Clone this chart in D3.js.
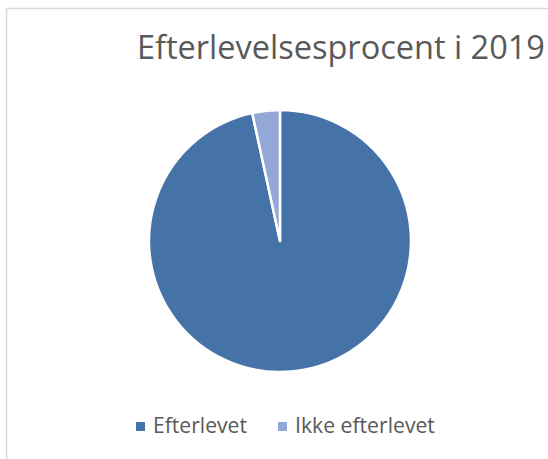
<!DOCTYPE html>
<html>
<head>
<meta charset="utf-8">
<script src="https://cdn.jsdelivr.net/npm/d3@7"></script>
<style>
  body { margin: 0; background: #fff; }
  svg { display: block; }
  text { font-family: "Open Sans", "Noto Sans", sans-serif; fill: #595959; }
</style>
</head>
<body>
<div id="canvas"></div>
<script>
var W = 548, H = 459;

// data
var categories = ['Efterlevet', 'Ikke efterlevet'];
var values = [96.6, 3.4];
var colors = ['#4573A7', '#93A8D6'];
var title = 'Efterlevelsesprocent i 2019';

var svg = d3.select('#canvas')
    .append('svg')
    .attr('width', W)
    .attr('height', H);

// chart frame (cropped at right and bottom)
svg.append('rect')
    .attr('x', 6.5).attr('y', 8.5)
    .attr('width', W + 20).attr('height', H + 20)
    .attr('fill', 'none')
    .attr('stroke', '#d9d9d9')
    .attr('stroke-width', 1.5);

// title, fitted to the width it has in the picture
var t = svg.append('text')
    .attr('x', 137)
    .attr('y', 59)
    .style('font-size', '30px')
    .text(title);
var tw = t.node().getComputedTextLength();
t.style('font-size', (30 * 408 / tw) + 'px');

// pie
var cx = 280, cy = 241, r = 131;
var pie = d3.pie().sort(null).value(function(d){ return d; });
var arc = d3.arc().innerRadius(0).outerRadius(r);

var g = svg.append('g').attr('transform', 'translate(' + cx + ',' + cy + ')');
g.selectAll('path')
    .data(pie(values))
    .enter()
    .append('path')
    .attr('d', arc)
    .attr('fill', function(d, i){ return colors[i]; })
    .attr('stroke', '#fff')
    .attr('stroke-width', 2.5)
    .attr('stroke-linejoin', 'round');

// legend
var legX = [136, 278];
var legW = [94, 140];
var leg = svg.selectAll('.leg')
    .data(categories)
    .enter()
    .append('g')
    .attr('class', 'leg')
    .attr('transform', function(d, i){ return 'translate(' + legX[i] + ',0)'; });

leg.append('rect')
    .attr('x', 0).attr('y', 422)
    .attr('width', 9).attr('height', 9)
    .attr('fill', function(d, i){ return colors[i]; });

leg.append('text')
    .attr('x', 17)
    .attr('y', 433)
    .style('font-size', '18px')
    .text(function(d){ return d; })
    .each(function(d, i){
      var w = this.getComputedTextLength();
      d3.select(this).style('font-size', (18 * legW[i] / w) + 'px');
    });
</script>
</body>
</html>
